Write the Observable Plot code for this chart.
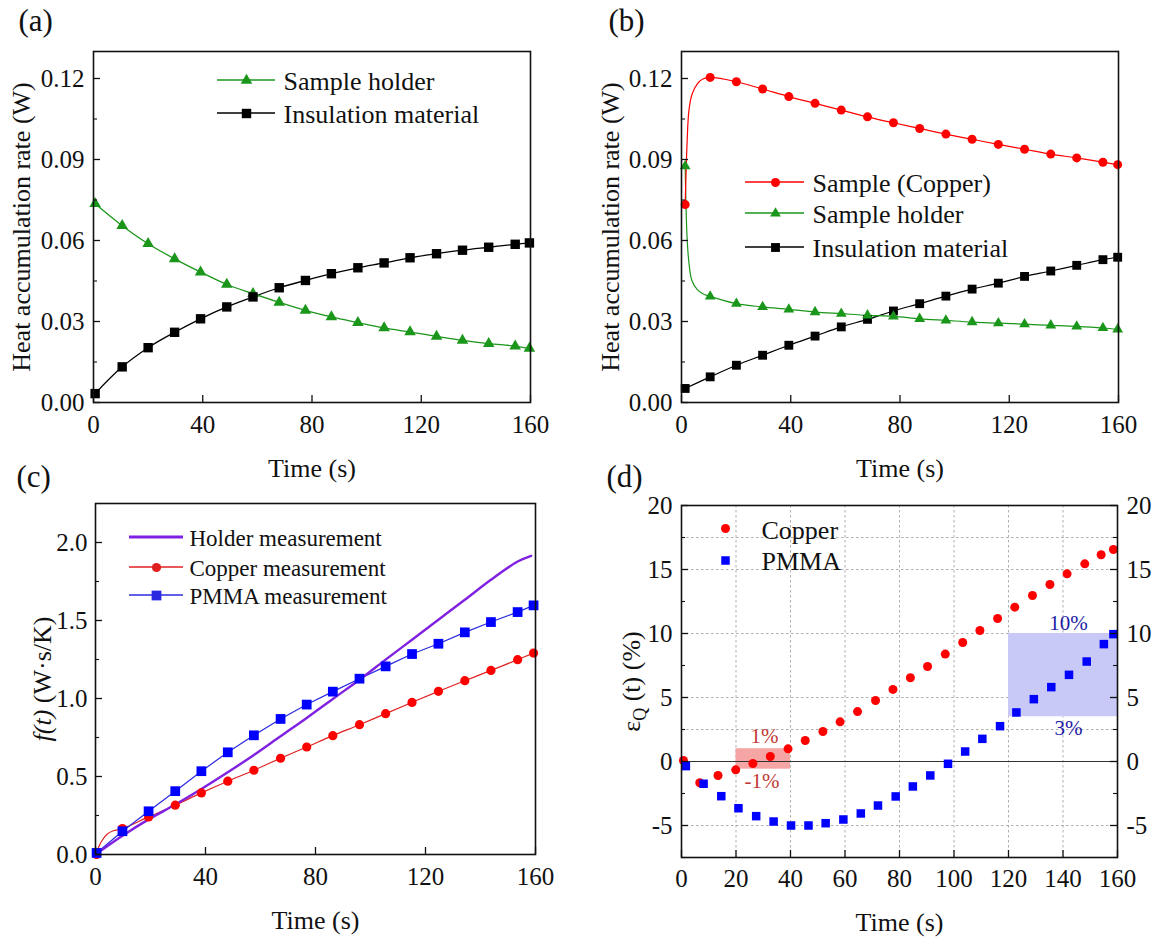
<!DOCTYPE html>
<html><head><meta charset="utf-8">
<script src="https://cdn.jsdelivr.net/npm/d3@7"></script>
<script src="https://cdn.jsdelivr.net/npm/@observablehq/plot@0.6"></script>
<style>
body{margin:0;background:#fff;}
#wrap{position:relative;width:1158px;height:940px;overflow:hidden;background:#fff;}
.panel{position:absolute;width:579px;height:470px;}
.panel svg{overflow:visible;display:block;}
</style>
</head><body><div id="wrap"></div>
<script>
// ================= DATA =================
// (a) heat accumulation rate, sample holder & insulation material
const aTime = [0.6, 10.5, 20.0, 29.7, 39.2, 48.8, 58.4, 68.0, 77.6, 87.1, 96.8, 106.4, 115.9, 125.6, 135.1, 144.7, 154.4, 159.6];
const aHolder = [0.0736, 0.0655, 0.0588, 0.0532, 0.0483, 0.0437, 0.0403, 0.0371, 0.0341, 0.0317, 0.0296, 0.0276, 0.0261, 0.0245, 0.0230, 0.0218, 0.0209, 0.0200];
const aInsulation = [0.0033, 0.0132, 0.0203, 0.0260, 0.0310, 0.0354, 0.0391, 0.0425, 0.0452, 0.0477, 0.0499, 0.0517, 0.0536, 0.0551, 0.0564, 0.0575, 0.0586, 0.0591];
const aLegend = ["Sample holder", "Insulation material"];

// (b) heat accumulation rate with copper sample
const bTime = [1.35, 10.5, 20.1, 29.7, 39.3, 48.9, 58.5, 68.1, 77.6, 87.2, 96.8, 106.4, 116.0, 125.6, 135.2, 144.7, 154.3, 159.7];
const bCopper = [0.0733, 0.1204, 0.1188, 0.1161, 0.1133, 0.1108, 0.1083, 0.1058, 0.1036, 0.1015, 0.0994, 0.0975, 0.0956, 0.0938, 0.0920, 0.0906, 0.0890, 0.0881];
const bHolder = [0.0875, 0.0393, 0.0366, 0.0354, 0.0345, 0.0335, 0.0329, 0.0323, 0.0319, 0.0310, 0.0304, 0.0298, 0.0294, 0.0290, 0.0286, 0.0282, 0.0276, 0.0271];
const bInsulation = [0.0052, 0.0095, 0.0138, 0.0175, 0.0212, 0.0246, 0.0280, 0.0308, 0.0339, 0.0366, 0.0394, 0.0420, 0.0442, 0.0467, 0.0487, 0.0508, 0.0529, 0.0538];
const bEarlyTime = [2.0, 2.7, 3.8, 5.8, 7.8];
const bCopperEarly = [0.095, 0.108, 0.114, 0.118, 0.1198];
const bHolderEarly = [0.062, 0.052, 0.0452, 0.0418, 0.0403];
const bLegend = ["Sample (Copper)", "Sample holder", "Insulation material"];

// (c) f(t)
const cTime = [0.4, 9.8, 19.3, 29.0, 38.5, 48.1, 57.6, 67.3, 76.8, 86.3, 96.0, 105.5, 115.1, 124.7, 134.3, 143.8, 153.5, 159.3];
const cCopper = [0.0, 0.166, 0.241, 0.316, 0.395, 0.470, 0.540, 0.617, 0.689, 0.762, 0.832, 0.903, 0.975, 1.046, 1.114, 1.180, 1.249, 1.291];
const cPMMA = [0.01, 0.149, 0.277, 0.406, 0.534, 0.655, 0.764, 0.869, 0.961, 1.044, 1.127, 1.206, 1.285, 1.351, 1.424, 1.490, 1.554, 1.597];
const cCopperEarlyTime = [1.2, 2.4, 4.2, 6.5];
const cCopperEarly = [0.05, 0.09, 0.13, 0.152];
const cHolderTime = [0, 9.8, 19.3, 29.0, 38.5, 48.1, 57.6, 67.3, 76.8, 86.3, 96.0, 105.5, 115.1, 124.7, 134.3, 143.8, 153.5, 158.4];
const cHolder = [0, 0.12, 0.225, 0.320, 0.42, 0.527, 0.638, 0.758, 0.875, 0.997, 1.12, 1.249, 1.377, 1.505, 1.633, 1.761, 1.878, 1.915];
const cLegend = ["Holder measurement", "Copper measurement", "PMMA measurement"];

// (d) relative error
const dCopperTime = [0.7, 6.7, 13.4, 19.9, 26.2, 32.6, 39.1, 45.4, 51.9, 58.2, 64.6, 71.2, 77.6, 84.0, 90.3, 96.8, 103.2, 109.5, 116.0, 122.3, 128.8, 135.2, 141.5, 148.0, 154.0, 158.5];
const dCopper = [0.08, -1.66, -1.09, -0.65, -0.16, 0.39, 0.99, 1.64, 2.34, 3.10, 3.90, 4.77, 5.63, 6.54, 7.42, 8.39, 9.30, 10.23, 11.17, 12.06, 12.97, 13.83, 14.66, 15.44, 16.15, 16.56];
const dPMMATime = [1.6, 8.1, 14.6, 20.9, 27.4, 33.8, 40.2, 46.6, 52.9, 59.4, 65.8, 72.1, 78.6, 84.9, 91.3, 97.8, 104.1, 110.4, 116.9, 122.9, 129.3, 135.7, 142.2, 148.7, 155.0, 158.5];
const dPMMA = [-0.36, -1.74, -2.71, -3.65, -4.27, -4.69, -5.0, -5.0, -4.82, -4.53, -4.06, -3.44, -2.73, -1.95, -1.09, -0.18, 0.78, 1.77, 2.76, 3.83, 4.87, 5.81, 6.77, 7.81, 9.17, 9.95];
const dBandX1 = [20, 120];
const dBandX2 = [40, 160];
const dBandY1 = [-0.6, 3.5];
const dBandY2 = [1.0, 10];
const dNoteText = ["1%", "-1%", "10%", "3%"];
const dNoteX = [30.5, 29.5, 142, 142];
const dNoteY = [1.95, -1.56, 10.8, 2.6];
const dLegend = ["Copper", "PMMA"];

// ticks
const timeTicks = [0, 40, 80, 120, 160];
const heatTicks = [0, 0.03, 0.06, 0.09, 0.12];
const heatMinor = [0.015, 0.045, 0.075, 0.105];
const fTicks = [0, 0.5, 1.0, 1.5, 2.0];
const fMinor = [0.25, 0.75, 1.25, 1.75];
const dTimeTicks = [0, 20, 40, 60, 80, 100, 120, 140, 160];
const dYTicks = [-5, 0, 5, 10, 15, 20];
const dYMinor = [-7.5, -2.5, 2.5, 7.5, 12.5, 17.5];
const dGridX = [20, 40, 60, 80, 100, 120, 140];
const dGridY = [-5, 2.5, 5, 10, 15, 17.5];

// ================= STYLE =================
const SERIF = "'Liberation Serif','Times New Roman',Times,serif";
const INK = "#111";
const RED = "#ff0000", BLUE = "#0000ff", GREEN = "#1a961a", BLACK = "#000", PURPLE = "#8020e0";
const baseStyle = {fontFamily: SERIF, fontSize: "25px", color: INK, background: "transparent", overflow: "visible"};
const idx = a => a.map((_, i) => i);

function innerTicks(fw, fh, xMajor, yMajor, yMinor, right = false) {
  const m = [
    Plot.tickY(yMajor, {y: d => d, insetRight: fw - 7, stroke: INK, strokeWidth: 1.3}),
    Plot.tickY(yMinor, {y: d => d, insetRight: fw - 4, stroke: INK, strokeWidth: 1.1}),
    Plot.tickX(xMajor, {x: d => d, insetTop: fh - 7, stroke: INK, strokeWidth: 1.3})
  ];
  if (right) {
    m.push(Plot.tickY(yMajor, {y: d => d, insetLeft: fw - 7, stroke: INK, strokeWidth: 1.3}));
    m.push(Plot.tickY(yMinor, {y: d => d, insetLeft: fw - 4, stroke: INK, strokeWidth: 1.1}));
  }
  return m;
}

function legendMarks(items, {x1, x2, xm, xt, fontSize}) {
  const marks = [];
  if (x1 != null) {
    marks.push((index, scales, values, dim) => {
      const g = d3.create("svg:g");
      for (const it of items) {
        g.append("line")
          .attr("x1", dim.marginLeft + x1).attr("x2", dim.marginLeft + x2)
          .attr("y1", dim.marginTop + it.dy).attr("y2", dim.marginTop + it.dy)
          .attr("stroke", it.color).attr("stroke-width", it.lw || 1.3);
      }
      return g.node();
    });
  }
  for (const it of items) {
    if (it.symbol) marks.push(Plot.dot([0], {frameAnchor: "top-left", dx: xm, dy: it.dy, symbol: it.symbol, r: it.r, fill: it.color}));
    marks.push(Plot.text([it.label], {text: d => d, frameAnchor: "top-left", dx: xt, dy: it.dy + (it.tdy || 1), textAnchor: "start", lineAnchor: "middle", fontSize, fill: INK}));
  }
  return marks;
}

function axisTitles(xLabel, yLabel, letter, {xdy, ydx, ldx, ldy}) {
  return [
    Plot.text([xLabel], {text: d => d, frameAnchor: "bottom", dy: xdy, textAnchor: "middle", lineAnchor: "middle", fontSize: 26, fill: INK}),
    Plot.text([yLabel], {text: d => d, frameAnchor: "left", dx: ydx, rotate: -90, textAnchor: "middle", lineAnchor: "middle", fontSize: 26, fill: INK}),
    Plot.text([letter], {text: d => d, frameAnchor: "top-left", dx: ldx, dy: ldy, textAnchor: "start", lineAnchor: "middle", fontSize: 31, fill: INK})
  ];
}

const frameMark = () => Plot.frame({stroke: INK, strokeWidth: 1.6});

// ================= PANEL (a) =================
const A = {w: 579, h: 470, ml: 93, mr: 49, mt: 51, mb: 68};
const fwA = A.w - A.ml - A.mr, fhA = A.h - A.mt - A.mb;
const plotA = Plot.plot({
  width: A.w, height: A.h, marginLeft: A.ml, marginRight: A.mr, marginTop: A.mt, marginBottom: A.mb,
  style: baseStyle,
  x: {domain: [0, 160], ticks: timeTicks, tickSize: 0, tickPadding: 13, tickFormat: d => String(d), label: null},
  y: {domain: [0, 0.13], ticks: heatTicks, tickSize: 0, tickPadding: 9, tickFormat: d3.format(".2f"), label: null},
  marks: [
    Plot.line(idx(aTime), {x: aTime, y: aInsulation, curve: "catmull-rom", stroke: BLACK, strokeWidth: 1.3}),
    Plot.line(idx(aTime), {x: aTime, y: aHolder, curve: "catmull-rom", stroke: GREEN, strokeWidth: 1.3}),
    Plot.dot(idx(aTime), {x: aTime, y: aHolder, symbol: "triangle", r: 4.3, fill: GREEN}),
    Plot.dot(idx(aTime), {x: aTime, y: aInsulation, symbol: "square", r: 5.3, fill: BLACK}),
    ...legendMarks([
      {label: aLegend[0], dy: 29, color: GREEN, symbol: "triangle", r: 4.3},
      {label: aLegend[1], dy: 62, color: BLACK, symbol: "square", r: 5.3}
    ], {x1: 124, x2: 182, xm: 153, xt: 190, fontSize: 26}),
    ...innerTicks(fwA, fhA, timeTicks, heatTicks, heatMinor),
    frameMark(),
    ...axisTitles("Time (s)", "Heat accumulation rate (W)", "(a)", {xdy: 66, ydx: -72, ldx: -75, ldy: -30})
  ]
});

// ================= PANEL (b) =================
const B = {w: 579, h: 470, ml: 102, mr: 40, mt: 51, mb: 68};
const fwB = B.w - B.ml - B.mr, fhB = B.h - B.mt - B.mb;
const bCopperLineT = [bTime[0], ...bEarlyTime, ...bTime.slice(1)];
const bCopperLineV = [bCopper[0], ...bCopperEarly, ...bCopper.slice(1)];
const bHolderLineV = [bHolder[0], ...bHolderEarly, ...bHolder.slice(1)];
const plotB = Plot.plot({
  width: B.w, height: B.h, marginLeft: B.ml, marginRight: B.mr, marginTop: B.mt, marginBottom: B.mb,
  style: baseStyle,
  x: {domain: [0, 160], ticks: timeTicks, tickSize: 0, tickPadding: 13, tickFormat: d => String(d), label: null},
  y: {domain: [0, 0.13], ticks: heatTicks, tickSize: 0, tickPadding: 9, tickFormat: d3.format(".2f"), label: null},
  marks: [
    Plot.line(idx(bTime), {x: bTime, y: bInsulation, curve: "catmull-rom", stroke: BLACK, strokeWidth: 1.2}),
    Plot.line(idx(bCopperLineT), {x: bCopperLineT, y: bHolderLineV, curve: "catmull-rom", stroke: GREEN, strokeWidth: 1.2}),
    Plot.line(idx(bCopperLineT), {x: bCopperLineT, y: bCopperLineV, curve: "catmull-rom", stroke: RED, strokeWidth: 1.2}),
    Plot.dot(idx(bTime), {x: bTime, y: bInsulation, symbol: "square", r: 5, fill: BLACK}),
    Plot.dot(idx(bTime), {x: bTime, y: bHolder, symbol: "triangle", r: 4, fill: GREEN}),
    Plot.dot(idx(bTime), {x: bTime, y: bCopper, symbol: "circle", r: 4.5, fill: RED}),
    ...legendMarks([
      {label: bLegend[0], dy: 131, color: RED, symbol: "circle", r: 4.5},
      {label: bLegend[1], dy: 162, color: GREEN, symbol: "triangle", r: 4},
      {label: bLegend[2], dy: 196, color: BLACK, symbol: "square", r: 5}
    ], {x1: 64, x2: 123, xm: 94, xt: 131, fontSize: 26}),
    ...innerTicks(fwB, fhB, timeTicks, heatTicks, heatMinor),
    frameMark(),
    ...axisTitles("Time (s)", "Heat accumulation rate (W)", "(b)", {xdy: 66, ydx: -71, ldx: -73, ldy: -30})
  ]
});

// ================= PANEL (c) =================
const C = {w: 579, h: 470, ml: 95, mr: 44, mt: 33, mb: 86};
const fwC = C.w - C.ml - C.mr, fhC = C.h - C.mt - C.mb;
const cCopperLineT = [cTime[0], ...cCopperEarlyTime, ...cTime.slice(1)];
const cCopperLineV = [cCopper[0], ...cCopperEarly, ...cCopper.slice(1)];
const plotC = Plot.plot({
  width: C.w, height: C.h, marginLeft: C.ml, marginRight: C.mr, marginTop: C.mt, marginBottom: C.mb,
  style: baseStyle,
  x: {domain: [0, 160], ticks: timeTicks, tickSize: 0, tickPadding: 13, tickFormat: d => String(d), label: null},
  y: {domain: [0, 2.25], ticks: fTicks, tickSize: 0, tickPadding: 8, tickFormat: d3.format(".1f"), label: null},
  marks: [
    Plot.line(idx(cCopperLineT), {x: cCopperLineT, y: cCopperLineV, curve: "catmull-rom", stroke: "#e02020", strokeWidth: 1.2}),
    Plot.line(idx(cTime), {x: cTime, y: cPMMA, stroke: "#2a2ae0", strokeWidth: 1.2}),
    Plot.line(idx(cHolderTime), {x: cHolderTime, y: cHolder, curve: "catmull-rom", stroke: PURPLE, strokeWidth: 2.4}),
    Plot.dot(idx(cTime), {x: cTime, y: cCopper, symbol: "circle", r: 4.6, fill: RED}),
    Plot.dot(idx(cTime), {x: cTime, y: cPMMA, symbol: "square", r: 5.5, fill: BLUE}),
    ...legendMarks([
      {label: cLegend[0], dy: 34, color: PURPLE, lw: 3},
      {label: cLegend[1], dy: 64, color: "#e02020", symbol: "circle", r: 4.6},
      {label: cLegend[2], dy: 92, color: "#2a2ae0", symbol: "square", r: 5.5}
    ], {x1: 34, x2: 88, xm: 61, xt: 94, fontSize: 23}),
    ...innerTicks(fwC, fhC, timeTicks, fTicks, fMinor),
    frameMark(),
    ...axisTitles("Time (s)", "f(t) (W·s/K)", "(c)", {xdy: 66, ydx: -53, ldx: -79, ldy: -26})
  ]
});

// ================= PANEL (d) =================
const D = {w: 579, h: 470, ml: 102, mr: 41, mt: 35, mb: 83};
const fwD = D.w - D.ml - D.mr, fhD = D.h - D.mt - D.mb;
const plotD = Plot.plot({
  width: D.w, height: D.h, marginLeft: D.ml, marginRight: D.mr, marginTop: D.mt, marginBottom: D.mb,
  style: baseStyle,
  x: {domain: [0, 160], ticks: dTimeTicks, tickSize: 0, tickPadding: 12, tickFormat: d => String(d), label: null},
  y: {domain: [-7.5, 20], ticks: dYTicks, tickSize: 0, tickPadding: 9, tickFormat: d => String(d), label: null, axis: "both"},
  marks: [
    Plot.ruleX(dGridX, {x: d => d, stroke: "#9a9a9a", strokeWidth: 0.8, strokeDasharray: "2.5,2.5"}),
    Plot.ruleY(dGridY, {y: d => d, stroke: "#9a9a9a", strokeWidth: 0.8, strokeDasharray: "2.5,2.5"}),
    Plot.rect(idx(dBandX1), {x1: dBandX1, x2: dBandX2, y1: dBandY1, y2: dBandY2, fill: ["#f6a5a5", "#c9c9f7"]}),
    Plot.ruleY([0], {y: d => d, stroke: "#333", strokeWidth: 1}),
    Plot.text(idx(dNoteText), {x: dNoteX, y: dNoteY, text: dNoteText, fontSize: 21, fill: ["#c23a36", "#c23a36", "#1c1ca6", "#1c1ca6"]}),
    Plot.dot(idx(dCopperTime), {x: dCopperTime, y: dCopper, symbol: "circle", r: 4.5, fill: RED}),
    Plot.dot(idx(dPMMATime), {x: dPMMATime, y: dPMMA, symbol: "square", r: 4.8, fill: BLUE}),
    ...legendMarks([
      {label: dLegend[0], dy: 23, color: RED, symbol: "circle", r: 4.5, tdy: 2},
      {label: dLegend[1], dy: 55, color: BLUE, symbol: "square", r: 4.8, tdy: 1}
    ], {x1: null, xm: 44, xt: 80, fontSize: 26}),
    ...innerTicks(fwD, fhD, dTimeTicks, dYTicks, dYMinor, true),
    frameMark(),
    ...axisTitles("Time (s)", "εQ (t) (%)", "(d)", {xdy: 65, ydx: -50, ldx: -75, ldy: -28})
  ]
});

// ================= POST (rich labels) =================
function richLabels(svg) {
  d3.select(svg).selectAll("text").each(function () {
    const t = this.textContent;
    const sel = d3.select(this);
    if (t === "εQ (t) (%)") {
      sel.text("");
      sel.append("tspan").text("ε");
      sel.append("tspan").attr("dy", "6px").style("font-size", "18px").text("Q");
      sel.append("tspan").attr("dy", "-6px").text(" (t) (%)");
    } else if (t === "f(t) (W·s/K)") {
      sel.text("");
      sel.append("tspan").style("font-style", "italic").text("f(t)");
      sel.append("tspan").text(" (W·s/K)");
    }
  });
}

const wrap = document.getElementById("wrap");
[[plotA, 0, 0], [plotB, 579, 0], [plotC, 0, 470], [plotD, 579, 470]].forEach(([p, l, t]) => {
  richLabels(p);
  const div = document.createElement("div");
  div.className = "panel";
  div.style.left = l + "px";
  div.style.top = t + "px";
  div.appendChild(p);
  wrap.appendChild(div);
});
</script>
</body></html>
